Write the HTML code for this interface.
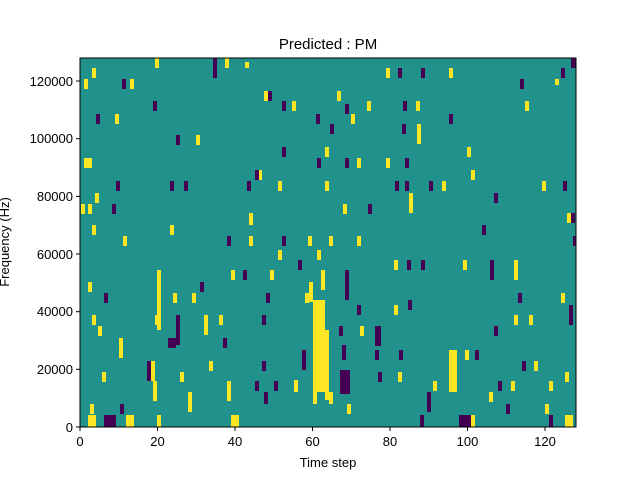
<!DOCTYPE html>
<html><head><meta charset="utf-8"><style>
body{margin:0;background:#fff;}
svg text{font-family:"Liberation Sans","DejaVu Sans",sans-serif;fill:#000}
</style></head><body>
<svg width="640" height="480" viewBox="0 0 640 480" xmlns="http://www.w3.org/2000/svg">
<rect x="0" y="0" width="640" height="480" fill="#fff"/>
<rect x="80" y="58" width="496" height="369" fill="#21918c"/>
<g fill="#fde725">
<rect x="155" y="58" width="4" height="10"/><rect x="225" y="58" width="4" height="10"/><rect x="92" y="68" width="4" height="10"/>
<rect x="386" y="68" width="4" height="10"/><rect x="449" y="68" width="4" height="10"/><rect x="245" y="62" width="4" height="6"/>
<rect x="84" y="79" width="4" height="10"/><rect x="130" y="79" width="4" height="10"/><rect x="555" y="79" width="4" height="6"/>
<rect x="264" y="91" width="4" height="10"/><rect x="337" y="91" width="4" height="10"/><rect x="367" y="101" width="4" height="10"/>
<rect x="416" y="101" width="4" height="10"/><rect x="115" y="114" width="4" height="10"/><rect x="292" y="101" width="4" height="10"/>
<rect x="525" y="101" width="4" height="10"/><rect x="351" y="114" width="4" height="10"/><rect x="417" y="124" width="4" height="20"/>
<rect x="196" y="135" width="4" height="10"/><rect x="84" y="158" width="8" height="10"/><rect x="325" y="147" width="4" height="10"/>
<rect x="467" y="147" width="4" height="10"/><rect x="357" y="158" width="4" height="10"/><rect x="386" y="158" width="4" height="10"/>
<rect x="258" y="170" width="4" height="10"/><rect x="471" y="170" width="4" height="10"/><rect x="278" y="181" width="4" height="10"/>
<rect x="325" y="181" width="4" height="10"/><rect x="442" y="181" width="4" height="10"/><rect x="542" y="181" width="4" height="10"/>
<rect x="95" y="193" width="4" height="10"/><rect x="81" y="204" width="4" height="10"/><rect x="88" y="204" width="4" height="10"/>
<rect x="409" y="193" width="4" height="20"/><rect x="343" y="204" width="4" height="10"/><rect x="249" y="213" width="4" height="12"/>
<rect x="567" y="213" width="4" height="10"/><rect x="92" y="225" width="4" height="10"/><rect x="170" y="225" width="4" height="10"/>
<rect x="123" y="236" width="4" height="10"/><rect x="249" y="236" width="4" height="10"/><rect x="308" y="236" width="4" height="10"/>
<rect x="329" y="236" width="4" height="10"/><rect x="357" y="236" width="4" height="10"/><rect x="278" y="250" width="4" height="10"/>
<rect x="317" y="250" width="4" height="10"/><rect x="394" y="260" width="4" height="10"/><rect x="463" y="260" width="4" height="10"/>
<rect x="514" y="260" width="4" height="20"/><rect x="231" y="270" width="4" height="10"/><rect x="270" y="270" width="4" height="10"/>
<rect x="321" y="270" width="4" height="20"/><rect x="88" y="282" width="4" height="10"/><rect x="157" y="270" width="4" height="60"/>
<rect x="309" y="282" width="4" height="20"/><rect x="173" y="293" width="4" height="10"/><rect x="192" y="293" width="4" height="10"/>
<rect x="305" y="293" width="4" height="10"/><rect x="561" y="293" width="4" height="10"/><rect x="155" y="315" width="4" height="10"/>
<rect x="204" y="315" width="4" height="20"/><rect x="219" y="315" width="4" height="10"/><rect x="92" y="315" width="4" height="10"/>
<rect x="394" y="305" width="4" height="10"/><rect x="514" y="315" width="4" height="10"/><rect x="529" y="315" width="4" height="10"/>
<rect x="313" y="300" width="12" height="92"/><rect x="325" y="330" width="4" height="70"/><rect x="98" y="326" width="4" height="10"/>
<rect x="360" y="326" width="4" height="10"/><rect x="170" y="338" width="4" height="10"/><rect x="119" y="338" width="4" height="20"/>
<rect x="209" y="361" width="4" height="10"/><rect x="449" y="350" width="8" height="42"/><rect x="465" y="350" width="4" height="10"/>
<rect x="151" y="361" width="4" height="20"/><rect x="180" y="372" width="4" height="10"/><rect x="398" y="372" width="4" height="10"/>
<rect x="534" y="361" width="4" height="10"/><rect x="565" y="372" width="4" height="10"/><rect x="102" y="372" width="4" height="10"/>
<rect x="294" y="380" width="4" height="12"/><rect x="227" y="381" width="4" height="20"/><rect x="153" y="381" width="4" height="20"/>
<rect x="433" y="381" width="4" height="10"/><rect x="511" y="381" width="4" height="10"/><rect x="549" y="381" width="4" height="10"/>
<rect x="313" y="392" width="4" height="12"/><rect x="329" y="392" width="4" height="12"/><rect x="188" y="392" width="4" height="20"/>
<rect x="489" y="392" width="4" height="10"/><rect x="90" y="404" width="4" height="10"/><rect x="347" y="404" width="4" height="10"/>
<rect x="545" y="404" width="4" height="10"/><rect x="88" y="415" width="8" height="12"/><rect x="126" y="415" width="8" height="12"/>
<rect x="157" y="415" width="4" height="12"/><rect x="231" y="415" width="8" height="12"/><rect x="471" y="415" width="4" height="12"/>
<rect x="565" y="415" width="8" height="12"/>
</g>
<g fill="#440154">
<rect x="213" y="58" width="4" height="20"/><rect x="571" y="58" width="5" height="10"/><rect x="561" y="68" width="4" height="10"/>
<rect x="398" y="68" width="4" height="10"/><rect x="421" y="68" width="4" height="10"/><rect x="122" y="79" width="4" height="10"/>
<rect x="520" y="79" width="4" height="10"/><rect x="153" y="101" width="4" height="10"/><rect x="268" y="91" width="4" height="10"/>
<rect x="282" y="101" width="4" height="10"/><rect x="403" y="101" width="4" height="10"/><rect x="96" y="114" width="4" height="10"/>
<rect x="345" y="104" width="4" height="10"/><rect x="316" y="114" width="4" height="10"/><rect x="330" y="124" width="4" height="10"/>
<rect x="402" y="124" width="4" height="10"/><rect x="449" y="114" width="4" height="10"/><rect x="176" y="135" width="4" height="10"/>
<rect x="282" y="147" width="4" height="10"/><rect x="317" y="158" width="4" height="10"/><rect x="345" y="158" width="4" height="10"/>
<rect x="405" y="158" width="4" height="10"/><rect x="255" y="170" width="4" height="10"/><rect x="116" y="181" width="4" height="10"/>
<rect x="170" y="181" width="4" height="10"/><rect x="184" y="181" width="4" height="10"/><rect x="247" y="181" width="4" height="10"/>
<rect x="395" y="181" width="4" height="10"/><rect x="405" y="181" width="4" height="10"/><rect x="429" y="181" width="4" height="10"/>
<rect x="563" y="181" width="4" height="10"/><rect x="494" y="193" width="4" height="10"/><rect x="112" y="204" width="4" height="10"/>
<rect x="368" y="204" width="4" height="10"/><rect x="571" y="213" width="4" height="10"/><rect x="482" y="225" width="4" height="10"/>
<rect x="227" y="236" width="4" height="10"/><rect x="282" y="236" width="4" height="10"/><rect x="573" y="236" width="3" height="10"/>
<rect x="298" y="260" width="4" height="10"/><rect x="407" y="260" width="4" height="10"/><rect x="421" y="260" width="4" height="10"/>
<rect x="490" y="260" width="4" height="20"/><rect x="243" y="270" width="4" height="10"/><rect x="345" y="270" width="4" height="30"/>
<rect x="200" y="282" width="4" height="10"/><rect x="104" y="293" width="4" height="10"/><rect x="266" y="293" width="4" height="10"/>
<rect x="518" y="293" width="4" height="10"/><rect x="408" y="300" width="4" height="10"/><rect x="357" y="305" width="4" height="10"/>
<rect x="569" y="305" width="4" height="20"/><rect x="176" y="315" width="4" height="30"/><rect x="262" y="315" width="4" height="10"/>
<rect x="339" y="326" width="4" height="10"/><rect x="375" y="326" width="6" height="20"/><rect x="494" y="326" width="4" height="10"/>
<rect x="168" y="338" width="8" height="10"/><rect x="223" y="338" width="4" height="10"/><rect x="302" y="350" width="4" height="20"/>
<rect x="342" y="345" width="4" height="15"/><rect x="375" y="350" width="4" height="10"/><rect x="399" y="350" width="4" height="10"/>
<rect x="475" y="350" width="4" height="10"/><rect x="147" y="361" width="4" height="20"/><rect x="262" y="361" width="4" height="10"/>
<rect x="522" y="361" width="4" height="10"/><rect x="340" y="370" width="10" height="24"/><rect x="378" y="372" width="4" height="10"/>
<rect x="255" y="381" width="4" height="10"/><rect x="274" y="381" width="4" height="10"/><rect x="498" y="381" width="4" height="10"/>
<rect x="264" y="392" width="4" height="12"/><rect x="427" y="392" width="4" height="20"/><rect x="120" y="404" width="4" height="10"/>
<rect x="506" y="404" width="4" height="10"/><rect x="104" y="415" width="12" height="12"/><rect x="459" y="415" width="12" height="12"/>
<rect x="549" y="415" width="4" height="12"/><rect x="420" y="415" width="4" height="12"/>
</g>
<rect x="80" y="58" width="496" height="369" fill="none" stroke="#000" stroke-width="1"/>
<g stroke="#000" stroke-width="1">
<line x1="80" y1="427" x2="80" y2="431"/><line x1="157.5" y1="427" x2="157.5" y2="431"/><line x1="235" y1="427" x2="235" y2="431"/>
<line x1="312.5" y1="427" x2="312.5" y2="431"/><line x1="390" y1="427" x2="390" y2="431"/><line x1="467.5" y1="427" x2="467.5" y2="431"/>
<line x1="545" y1="427" x2="545" y2="431"/>
<line x1="76" y1="427" x2="80" y2="427"/><line x1="76" y1="369.3" x2="80" y2="369.3"/><line x1="76" y1="311.7" x2="80" y2="311.7"/>
<line x1="76" y1="254" x2="80" y2="254"/><line x1="76" y1="196.4" x2="80" y2="196.4"/><line x1="76" y1="138.7" x2="80" y2="138.7"/>
<line x1="76" y1="81" x2="80" y2="81"/>
</g>
<g font-size="13" text-anchor="middle">
<text x="80" y="446">0</text><text x="157.5" y="446">20</text><text x="235" y="446">40</text><text x="312.5" y="446">60</text>
<text x="390" y="446">80</text><text x="467.5" y="446">100</text><text x="545" y="446">120</text>
<text x="328" y="467">Time step</text>
<text x="328" y="49" font-size="15">Predicted : PM</text>
</g>
<g font-size="13" text-anchor="end">
<text x="73" y="432">0</text><text x="73" y="374">20000</text><text x="73" y="316">40000</text><text x="73" y="259">60000</text>
<text x="73" y="201">80000</text><text x="73" y="143">100000</text><text x="73" y="86">120000</text>
</g>
<text x="0" y="0" font-size="13" text-anchor="middle" transform="translate(9,242) rotate(-90)">Frequency (Hz)</text>
</svg>
</body></html>
